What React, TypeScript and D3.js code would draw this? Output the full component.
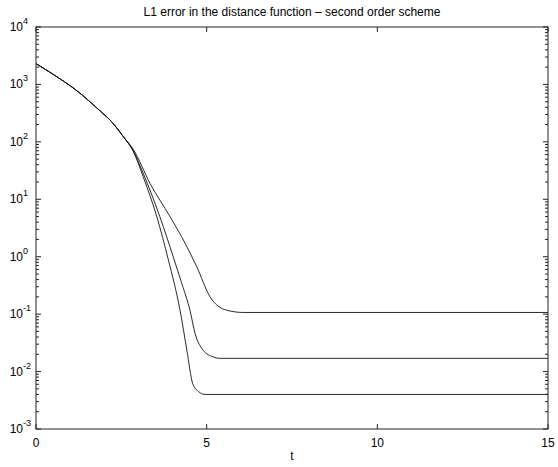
import React, { useEffect, useRef } from 'react';
import * as d3 from 'd3';

const title = 'L1 error in the distance function \u2013 second order scheme';
const xTicks = [0, 5, 10, 15];
const yExponents = [-3, -2, -1, 0, 1, 2, 3, 4];

// [t, error]
const coarse: [number, number][] = [
  [0, 2300], [0.5, 1500], [1.17, 800], [1.95, 316], [2.17, 240], [2.56, 123], [2.85, 74],
  [3.34, 18.9], [3.93, 4.95], [4.37, 1.71], [4.71, 0.667], [5.1, 0.2],
  [5.59, 0.117], [6.07, 0.107], [15, 0.107]
];
const medium: [number, number][] = [
  [0, 2300], [0.5, 1500], [1.17, 800], [1.95, 316], [2.17, 240], [2.56, 123], [2.85, 70],
  [3.1, 32.3], [3.63, 4.95], [4.02, 1.0], [4.27, 0.343], [4.51, 0.117], [4.66, 0.046],
  [4.9, 0.0235], [5.19, 0.018], [5.39, 0.017], [15, 0.017]
];
const fine: [number, number][] = [
  [0, 2300], [0.5, 1500], [1.17, 800], [1.95, 316], [2.17, 240], [2.56, 123], [2.85, 68],
  [3.14, 24.7], [3.54, 4.95], [3.88, 0.873], [4.22, 0.117], [4.42, 0.0235],
  [4.59, 0.0062], [4.76, 0.0045], [4.95, 0.004], [15, 0.004]
];
const series = [coarse, medium, fine];

export default function App() {
  const ref = useRef<SVGSVGElement>(null);
  const width = 558;
  const height = 467;
  const margin = { top: 27, right: 10, bottom: 38, left: 36 };

  useEffect(() => {
    const svg = d3.select(ref.current);
    svg.selectAll('*').remove();
    const font = 'Liberation Sans, Arial, sans-serif';

    const x = d3.scaleLinear().domain([0, 15]).range([margin.left, width - margin.right]);
    const y = d3.scaleLog().domain([1e-3, 1e4]).range([height - margin.bottom, margin.top]);
    const x0 = x.range()[0], x1 = x.range()[1];
    const y0 = y.range()[0], y1 = y.range()[1];

    svg.append('rect').attr('width', width).attr('height', height).attr('fill', '#fff');

    // curves
    const line = d3.line<[number, number]>()
      .x(d => x(d[0]))
      .y(d => y(d[1]))
      .curve(d3.curveMonotoneX);
    svg.append('g').selectAll('path').data(series).enter().append('path')
      .attr('d', d => line(d))
      .attr('fill', 'none')
      .attr('stroke', '#111')
      .attr('stroke-width', 0.9);

    // box
    svg.append('rect')
      .attr('x', x0).attr('y', y1).attr('width', x1 - x0).attr('height', y0 - y1)
      .attr('fill', 'none').attr('stroke', '#222').attr('stroke-width', 1);

    const ticks = svg.append('g').attr('stroke', '#222').attr('stroke-width', 1);
    // x ticks, top and bottom
    xTicks.forEach(t => {
      ticks.append('line').attr('x1', x(t)).attr('x2', x(t)).attr('y1', y0).attr('y2', y0 - 5);
      ticks.append('line').attr('x1', x(t)).attr('x2', x(t)).attr('y1', y1).attr('y2', y1 + 5);
    });
    // y ticks, major and minor, left and right
    yExponents.forEach(e => {
      const major = Math.pow(10, e);
      ticks.append('line').attr('x1', x0).attr('x2', x0 + 5).attr('y1', y(major)).attr('y2', y(major));
      ticks.append('line').attr('x1', x1).attr('x2', x1 - 5).attr('y1', y(major)).attr('y2', y(major));
      if (e < 4) {
        for (let m = 2; m <= 9; m++) {
          const v = m * major;
          ticks.append('line').attr('x1', x0).attr('x2', x0 + 3).attr('y1', y(v)).attr('y2', y(v));
          ticks.append('line').attr('x1', x1).attr('x2', x1 - 3).attr('y1', y(v)).attr('y2', y(v));
        }
      }
    });

    // x tick labels
    svg.append('g').selectAll('text').data(xTicks).enter().append('text')
      .attr('x', d => x(d)).attr('y', y0 + 18)
      .attr('text-anchor', 'middle')
      .attr('font-family', font).attr('font-size', 12)
      .text(d => d);

    // y tick labels
    const yl = svg.append('g').attr('font-family', font).attr('font-size', 12);
    yExponents.forEach(e => {
      yl.append('text').attr('x', x0 - 13).attr('y', y(Math.pow(10, e)) + 4)
        .attr('text-anchor', 'end').text('10');
      yl.append('text').attr('x', x0 - 13).attr('y', y(Math.pow(10, e)) - 3)
        .attr('font-size', 9).text(e);
    });

    svg.append('text')
      .attr('x', (x0 + x1) / 2).attr('y', 16)
      .attr('text-anchor', 'middle')
      .attr('font-family', font).attr('font-size', 12)
      .text(title);

    svg.append('text')
      .attr('x', (x0 + x1) / 2).attr('y', y0 + 31)
      .attr('text-anchor', 'middle')
      .attr('font-family', font).attr('font-size', 12)
      .text('t');
  }, []);

  return (
    <svg ref={ref} width={width} height={height}
      style={{ position: 'absolute', left: 0, top: 0, display: 'block' }} />
  );
}
